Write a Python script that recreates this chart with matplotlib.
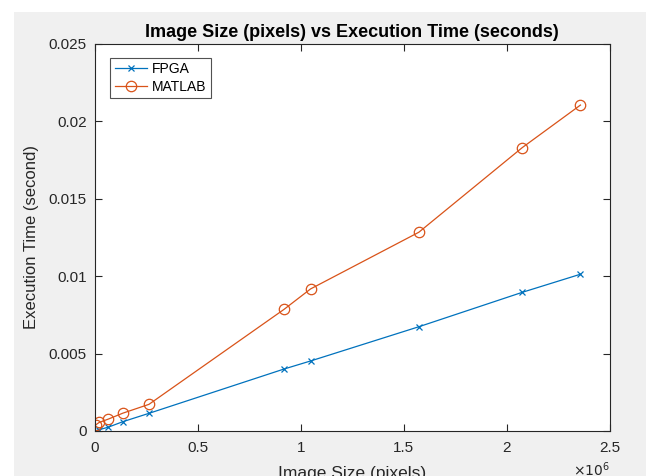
import matplotlib.pyplot as plt
from matplotlib.patches import Rectangle
from matplotlib.ticker import FuncFormatter

plt.rcParams['font.family'] = ['Liberation Sans', 'DejaVu Sans']

# image size in pixels
image_size = [4000, 20000, 65000, 135000, 262000, 918000, 1047000, 1573000, 2075000, 2358000]
fpga_time = [0.00002, 0.00008, 0.00025, 0.0006, 0.00114, 0.0040, 0.00452, 0.00673, 0.00895, 0.01012]
matlab_time = [0.0004, 0.00055, 0.00077, 0.00115, 0.00172, 0.00785, 0.00917, 0.01283, 0.01829, 0.02104]

x_ticks = [0, 0.5e6, 1e6, 1.5e6, 2e6, 2.5e6]
y_ticks = [0, 0.005, 0.01, 0.015, 0.02, 0.025]
y_tick_labels = ['0', '0.005', '0.01', '0.015', '0.02', '0.025']

BLUE = '#0072BD'
ORANGE = '#D95319'
AXCOL = '#262626'
GRAY = '#f0f0f0'

W, H = 646, 476
fig = plt.figure(figsize=(W / 100, H / 100), dpi=100, facecolor='white')
# MATLAB figure background (gray panel)
fig.add_artist(Rectangle((14 / W, 0), 1, 1 - 12 / H, transform=fig.transFigure,
                         facecolor=GRAY, edgecolor='none', zorder=-10))

ax = fig.add_axes([95 / W, 45 / H, (609.7 - 95) / W, (431 - 43.7) / H])
ax.set_facecolor('white')

ax.plot(image_size, fpga_time, '-x', color=BLUE, lw=0.9, ms=5, mew=0.9, label='FPGA')
ax.plot(image_size, matlab_time, '-o', color=ORANGE, lw=0.9, ms=7.5, mew=0.9,
        mfc='none', label='MATLAB')

ax.set_xlim(0, 2.5e6)
ax.set_ylim(0, 0.025)
ax.set_xticks(x_ticks)
ax.xaxis.set_major_formatter(FuncFormatter(lambda v, p: f'{v / 1e6:g}'))
ax.set_yticks(y_ticks)
ax.set_yticklabels(y_tick_labels)

ax.tick_params(direction='in', length=5, width=0.8, colors=AXCOL, labelsize=11,
               top=True, right=True)
ax.tick_params(axis='x', pad=7)
ax.tick_params(axis='y', pad=6)
for s in ax.spines.values():
    s.set_color(AXCOL)
    s.set_linewidth(0.8)

ax.set_title('Image Size (pixels) vs Execution Time (seconds)', fontsize=13,
             fontweight='bold', color='black', pad=5)
ax.set_xlabel('Image Size (pixels)', fontsize=12.5, color=AXCOL, labelpad=8)
ax.set_ylabel('Execution Time (second)', fontsize=12, color=AXCOL, labelpad=7)

ax.text(1.0, -0.1, r'$\times10^{6}$', transform=ax.transAxes, ha='right',
        va='center', fontsize=10, color=AXCOL)

leg = ax.legend(loc='upper left', bbox_to_anchor=(0.03, 0.963), fontsize=10,
                frameon=True, fancybox=False, borderpad=0.3, labelspacing=0.25,
                handlelength=2.3, handletextpad=0.4, borderaxespad=0)
leg.get_frame().set_edgecolor(AXCOL)
leg.get_frame().set_linewidth(0.8)

fig.savefig('out.png', dpi=100, facecolor=fig.get_facecolor())
